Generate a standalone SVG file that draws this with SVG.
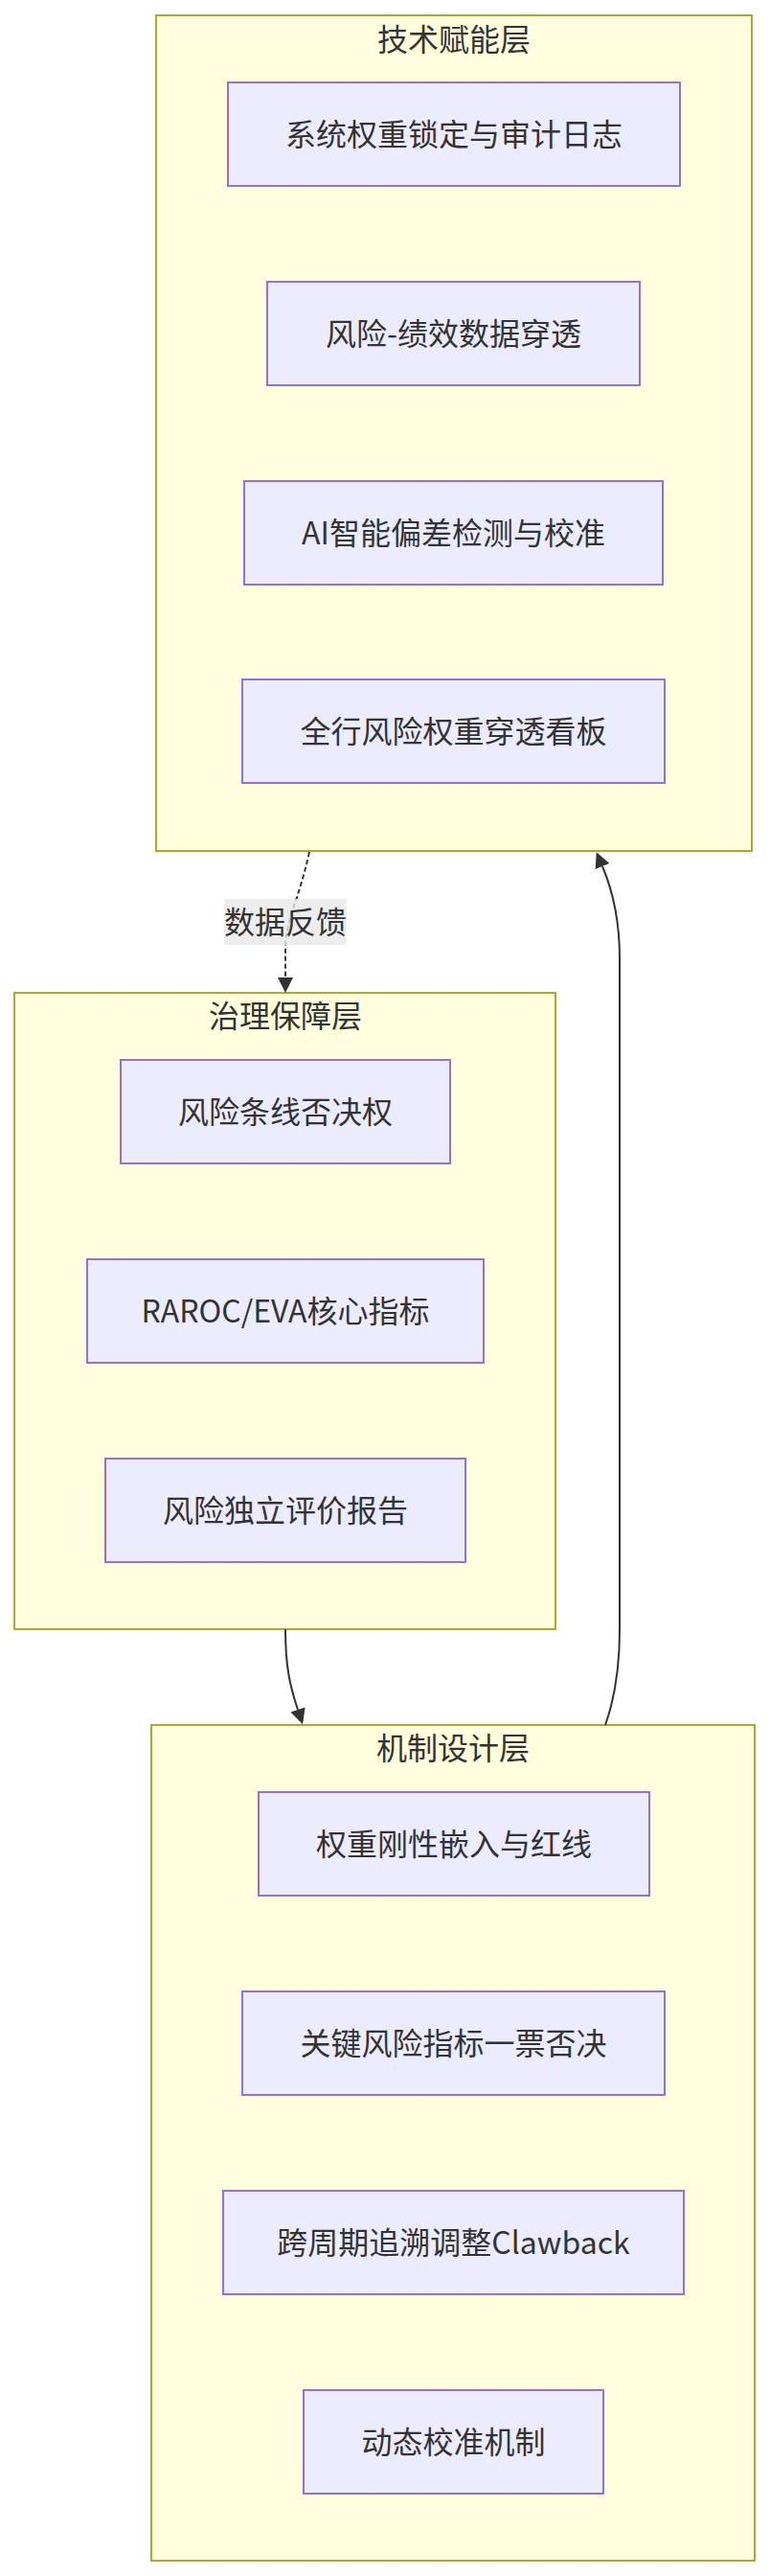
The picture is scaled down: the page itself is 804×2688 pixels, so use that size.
<svg xmlns="http://www.w3.org/2000/svg" width="804" height="2688" viewBox="0 0 804 2688">
<style>
.cluster rect{fill:#ffffde;stroke:#aaaa33;stroke-width:2}
.node rect{fill:#ECECFF;stroke:#9370DB;stroke-width:2}
text{font-family:"Noto Sans CJK SC","Noto Sans",sans-serif;font-size:32px;fill:#333333;text-anchor:middle}
.edge{fill:none;stroke:#333333;stroke-width:2}
.dotted{stroke-dasharray:5 3}
.lblbg{fill:rgba(232,232,232,0.8)}
</style>
<defs>
<marker id="arrow" viewBox="0 0 10 10" refX="0" refY="5" markerUnits="userSpaceOnUse" markerWidth="16" markerHeight="16" orient="auto">
<path d="M0,0 L10,5 L0,10 z" fill="#333333"/>
</marker>
</defs>
<rect width="804" height="2688" fill="#ffffff"/>

<g id="cluster-tech" class="cluster">
<rect x="163" y="16" width="622" height="872"/>
<text x="474" y="53">技术赋能层</text>
</g>
<g id="cluster-gov" class="cluster">
<rect x="15" y="1036" width="565" height="664"/>
<text x="298" y="1072">治理保障层</text>
</g>
<g id="cluster-mech" class="cluster">
<rect x="158" y="1800" width="630" height="872"/>
<text x="473" y="1836">机制设计层</text>
</g>

<g id="edges">
<path class="edge dotted" d="M323,889 C312,940 298,960 298,990 L298,1020" marker-end="url(#arrow)"/>
<path class="edge" d="M298,1700 C298,1740 303,1760 311,1784" marker-end="url(#arrow)"/>
<path class="edge" d="M632,1800 C641,1775 647,1745 647,1700 L647,1000 C647,960 640,930 629,904" marker-end="url(#arrow)"/>
<g id="edge-label">
<rect class="lblbg" x="234" y="938" width="128" height="48"/>
<text x="298" y="974">数据反馈</text>
</g>
</g>

<g id="n1" class="node"><rect x="238" y="86" width="472" height="108"/><text x="474" y="152">系统权重锁定与审计日志</text></g>
<g id="n2" class="node"><rect x="279" y="294" width="389" height="108"/><text x="473.5" y="360">风险-绩效数据穿透</text></g>
<g id="n3" class="node"><rect x="255" y="502" width="437" height="108"/><text x="473.5" y="568">AI智能偏差检测与校准</text></g>
<g id="n4" class="node"><rect x="253" y="709" width="441" height="108"/><text x="473.5" y="775">全行风险权重穿透看板</text></g>

<g id="g1" class="node"><rect x="126" y="1106" width="344" height="108"/><text x="298" y="1172">风险条线否决权</text></g>
<g id="g2" class="node"><rect x="91" y="1314" width="414" height="108"/><text x="298" y="1380">RAROC/EVA核心指标</text></g>
<g id="g3" class="node"><rect x="110" y="1522" width="376" height="108"/><text x="298" y="1588">风险独立评价报告</text></g>

<g id="m1" class="node"><rect x="270" y="1870" width="408" height="108"/><text x="474" y="1936">权重刚性嵌入与红线</text></g>
<g id="m2" class="node"><rect x="253" y="2078" width="441" height="108"/><text x="473.5" y="2144">关键风险指标一票否决</text></g>
<g id="m3" class="node"><rect x="233" y="2286" width="481" height="108"/><text x="473.5" y="2352">跨周期追溯调整Clawback</text></g>
<g id="m4" class="node"><rect x="317" y="2494" width="313" height="108"/><text x="473.5" y="2560">动态校准机制</text></g>
</svg>
